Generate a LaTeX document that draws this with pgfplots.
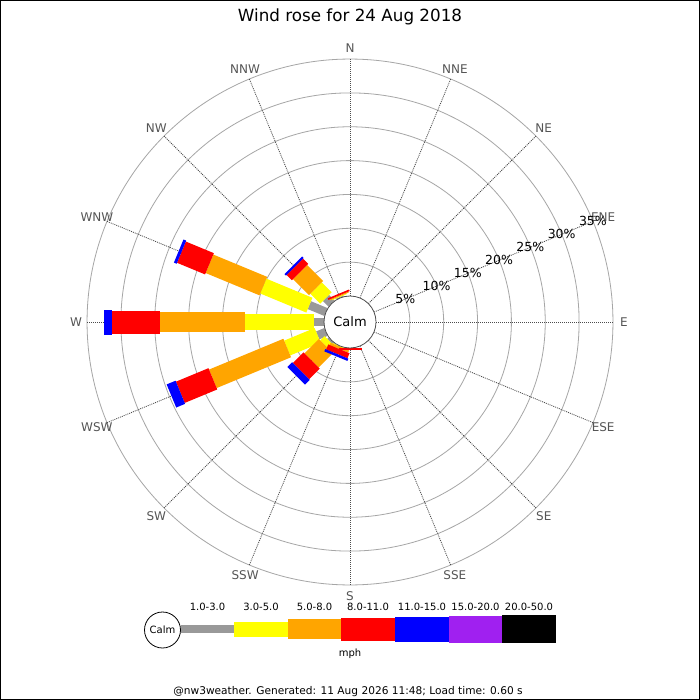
\documentclass[border=0pt]{standalone}
\usepackage{pgfplots}
\pgfplotsset{compat=1.18}
\usepackage{pgfplotstable}
\usepackage{fontspec}
\setmainfont{DejaVu Sans}
\definecolor{cgray}{RGB}{153,153,153}
\definecolor{cyel}{RGB}{255,255,0}
\definecolor{corg}{RGB}{255,165,0}
\definecolor{cred}{RGB}{255,0,0}
\definecolor{cblu}{RGB}{0,0,255}
\definecolor{cpur}{RGB}{160,32,240}
\definecolor{lab}{RGB}{85,85,85}

% wind frequency (%) per direction (compass degrees) and speed band
\pgfplotstableread{
ang   cg    cy    co    cr    cb
337.5 0.15  0.10  0.15  0.25  0.00
315   1.18  2.07  3.35  1.08  0.32
292.5 2.66  7.36  8.61  4.48  0.44
270   1.48  10.19 12.56 7.13  1.14
247.5 1.33  4.87  11.89 5.20  1.42
225   0.30  0.90  2.98  2.23  1.00
202.5 0.00  0.10  0.35  0.80  0.37
180   0.00  0.00  0.05  0.30  0.00
}\wind

\newcommand\Rz{3.84}
\newcommand\band[4]{%
\addplot[draw=#1, line width=#2, quiver={u={(\thisrow{#4})*sin(\thisrow{ang})}, v={(\thisrow{#4})*cos(\thisrow{ang})}}]
  table[x expr={(#3)*sin(\thisrow{ang})}, y expr={(#3)*cos(\thisrow{ang})}] {\wind};}

\newcommand\fs[1]{\fontsize{#1bp}{#1bp}\selectfont}

\begin{document}
\begin{tikzpicture}[x=1bp,y=-1bp]
\useasboundingbox (0,0) rectangle (700,700);
\fill[white] (0,0) rectangle (700,700);
% rings
\foreach \k in {1,...,7}
  \draw[black!35, line width=0.8bp] (350,322) circle[radius={26+33.85*\k}];
% radial lines
\foreach \c in {0,22.5,...,337.5}
  \draw[black!70, line width=0.8bp, dash pattern=on 1bp off 1bp] (350,322) ++({\c-90}:26) -- ++({\c-90}:237);

\begin{axis}[at={(350bp,-322bp)}, anchor=center, x=6.77bp, y=6.77bp,
  xmin=-42, xmax=42, ymin=-42, ymax=42, hide axis, clip=false]
\band{cgray}{8.5bp}{\Rz}{cg}
\band{cyel}{16bp}{\Rz+\thisrow{cg}}{cy}
\band{corg}{20bp}{\Rz+\thisrow{cg}+\thisrow{cy}}{co}
\band{cred}{23bp}{\Rz+\thisrow{cg}+\thisrow{cy}+\thisrow{co}}{cr}
\band{cblu}{25bp}{\Rz+\thisrow{cg}+\thisrow{cy}+\thisrow{co}+\thisrow{cr}}{cb}
\end{axis}

% calm circle
\draw[black!70, line width=0.8bp, fill=white] (350,322) circle[radius=26];
\node[font=\fs{13}] at (350,322) {Calm};

% direction labels
\foreach \c/\t in {0/N,22.5/NNE,45/NE,67.5/ENE,90/E,112.5/ESE,135/SE,157.5/SSE,180/S,202.5/SSW,225/SW,247.5/WSW,270/W,292.5/WNW,315/NW,337.5/NNW}
  \path (350,322) ++({\c-90}:274) node[text=lab, font=\fs{12}] {\t};

% ring labels
\foreach \k/\t in {1/5,2/10,3/15,4/20,5/25,6/30,7/35}
  \path (350,322) ++(-22.5:{26+33.85*\k}) node[font=\fs{12.5}] {\t\%};

% title
\node[font=\fs{16.75}] at (350,17) {Wind rose for 24 Aug 2018};

% legend
\fill[cgray] (180.7,625) rectangle (234.3,633.3);
\fill[cyel] (234.3,621.7) rectangle (287.7,636.7);
\fill[corg] (287.7,619) rectangle (341.3,639.3);
\fill[cred] (341.3,617.7) rectangle (395,640.7);
\fill[cblu] (395,616.7) rectangle (448.7,641.7);
\fill[cpur] (448.7,615.7) rectangle (502.3,642.7);
\fill[black] (502.3,615) rectangle (556,643.3);
\draw[black, line width=0.8bp, fill=white] (162.5,630) circle[radius=18];
\node[font=\fs{10}] at (162.5,630) {Calm};
\foreach \x/\t in {207.5/1.0-3.0,261/3.0-5.0,314.5/5.0-8.0,368/8.0-11.0,422/11.0-15.0,475.5/15.0-20.0,529/20.0-50.0}
  \node[font=\fs{10}] at (\x,606.7) {\t};
\node[font=\fs{10}] at (350,653.5) {mph};

% footer
\node[font=\fs{10.6}] at (348,692) {@nw3weather. Generated: 11 Aug 2026 11:48; Load time: 0.60 s};

% border
\draw[black, line width=1bp] (0.5,0.5) rectangle (699.5,699.5);
\end{tikzpicture}
\end{document}
